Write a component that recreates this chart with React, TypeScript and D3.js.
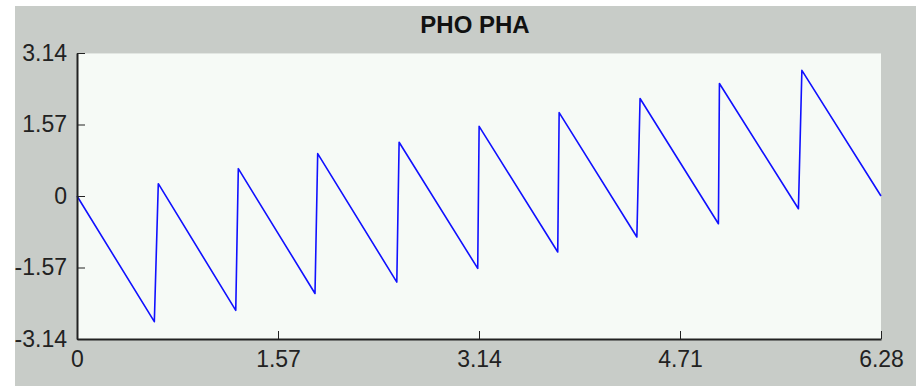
import { useEffect, useRef } from 'react';
import * as d3 from 'd3';

// Values (wrapped phase, radians)
const phaseX = [0, 0.604, 0.635, 1.24, 1.26, 1.859, 1.88, 2.498, 2.516, 3.13, 3.141, 3.755, 3.766, 4.373, 4.398, 5.01, 5.018, 5.635, 5.662, 6.28];
const phaseY = [0, -2.76, 0.27, -2.51, 0.6, -2.14, 0.93, -1.89, 1.18, -1.59, 1.53, -1.23, 1.83, -0.9, 2.14, -0.61, 2.47, -0.28, 2.76, 0];

const xTicks = [0, 1.57, 3.14, 4.71, 6.28];
const yTicks = [3.14, 1.57, 0, -1.57, -3.14];
const xTickLabels = ['0', '1.57', '3.14', '4.71', '6.28'];
const yTickLabels = ['3.14', '1.57', '0', '-1.57', '-3.14'];

const title = 'PHO PHA';

const WIDTH = 916;
const HEIGHT = 386;
const FONT = '"Liberation Sans", Arial, sans-serif';

export default function App() {
    const svgRef = useRef<SVGSVGElement>(null);

    useEffect(() => {
        if (!svgRef.current) return;
        const svg = d3.select(svgRef.current);
        svg.selectAll('*').remove();

        const margin = { left: 77, right: 35, top: 53, bottom: 47 };
        const plotW = WIDTH - margin.left - margin.right;
        const plotH = HEIGHT - margin.top - margin.bottom;

        // outer gray panel
        svg.append('rect')
            .attr('x', 15).attr('y', 6)
            .attr('width', WIDTH - 15).attr('height', HEIGHT - 6)
            .attr('fill', '#c8ccc8');

        svg.append('text')
            .attr('x', 475).attr('y', 33)
            .attr('text-anchor', 'middle')
            .style('font-family', FONT)
            .style('font-size', '24px')
            .style('font-weight', 'bold')
            .attr('fill', '#111')
            .text(title);

        const g = svg.append('g').attr('transform', `translate(${margin.left},${margin.top})`);

        const x = d3.scaleLinear().domain([0, 6.28]).range([0, plotW]);
        const y = d3.scaleLinear().domain([-3.14, 3.14]).range([plotH, 0]);

        g.append('rect')
            .attr('width', plotW).attr('height', plotH)
            .attr('fill', '#f6faf6');
        g.append('line')
            .attr('x1', 0).attr('x2', plotW).attr('y1', 0.5).attr('y2', 0.5)
            .attr('stroke', '#e2e6e2');

        const points = phaseX.map((v, i) => [v, phaseY[i]] as [number, number]);
        const line = d3.line<[number, number]>()
            .x(d => x(d[0]))
            .y(d => y(d[1]));

        g.append('path')
            .datum(points)
            .attr('d', line)
            .attr('fill', 'none')
            .attr('stroke', '#1010ff')
            .attr('stroke-width', 1.6)
            .attr('stroke-linejoin', 'round');

        const xAxis = d3.axisBottom(x)
            .tickValues(xTicks)
            .tickFormat((_, i) => xTickLabels[i])
            .tickSizeInner(-8)
            .tickSizeOuter(0)
            .tickPadding(12);

        const yAxis = d3.axisLeft(y)
            .tickValues(yTicks)
            .tickFormat((_, i) => yTickLabels[i])
            .tickSizeInner(-8)
            .tickSizeOuter(0)
            .tickPadding(10);

        const styleAxis = (sel: d3.Selection<SVGGElement, unknown, null, undefined>) => {
            sel.select('.domain').attr('stroke', '#222').attr('stroke-width', 2);
            sel.selectAll('.tick line').attr('stroke', '#222');
            sel.selectAll('.tick text')
                .attr('fill', '#222')
                .style('font-family', FONT)
                .style('font-size', '23px');
        };

        g.append('g')
            .attr('transform', `translate(0,${plotH})`)
            .call(xAxis)
            .call(styleAxis);

        g.append('g')
            .call(yAxis)
            .call(styleAxis);
    }, []);

    return (
        <div style={{ position: 'fixed', left: 0, top: 0, background: '#fff' }}>
            <svg ref={svgRef} width={WIDTH} height={HEIGHT} style={{ display: 'block' }}></svg>
        </div>
    );
}
